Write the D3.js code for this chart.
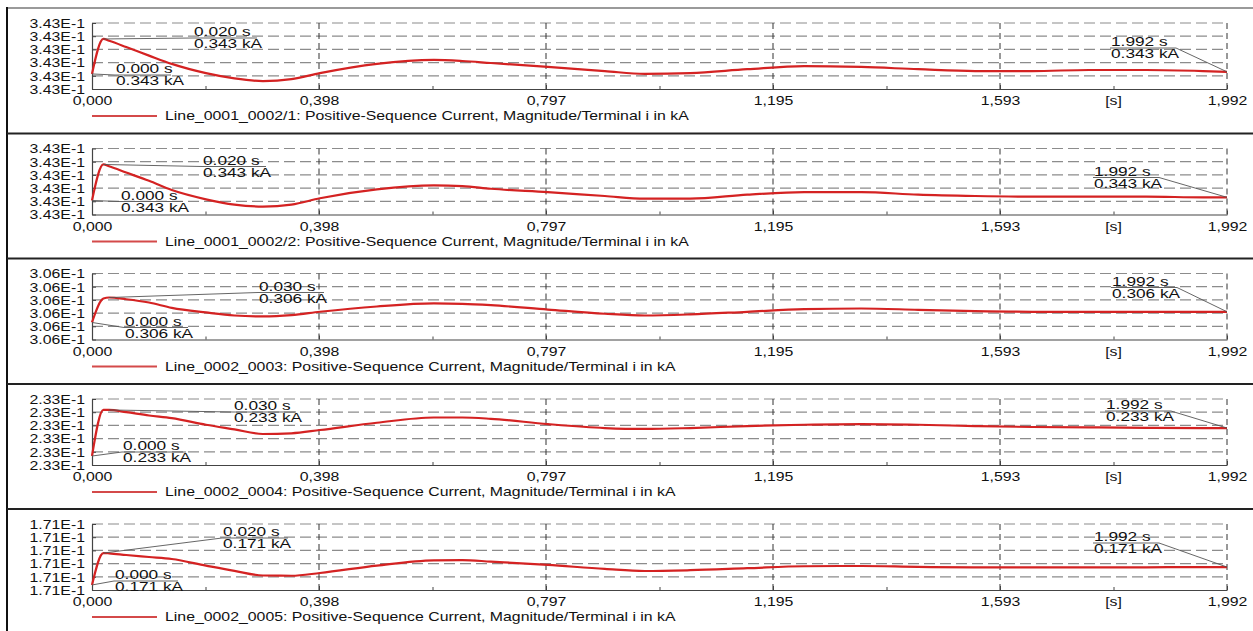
<!DOCTYPE html>
<html><head><meta charset="utf-8">
<script src="https://cdn.jsdelivr.net/npm/d3@7"></script>
<style>
body{margin:0;background:#fff}
svg{display:block}
text{font-family:"Liberation Sans",Arial,sans-serif;font-size:12px;fill:#111}
</style>
</head><body>
<svg id="c" width="1253" height="631"></svg>
<script>
// ---------------- DATA ----------------
const time = [0, 0.02, 0.03, 0.06, 0.1, 0.14, 0.2, 0.25, 0.3, 0.35, 0.4, 0.5, 0.6, 0.65, 0.7, 0.8, 0.9, 0.97, 1.05, 1.15, 1.25, 1.35, 1.45, 1.55, 1.65, 1.75, 1.85, 1.95, 1.992];

const values1 = [0.3430114, 0.3430379, 0.3430365, 0.3430318, 0.3430253, 0.3430190, 0.3430120, 0.3430080, 0.3430060, 0.3430075, 0.3430120, 0.3430190, 0.3430220, 0.3430212, 0.3430197, 0.3430167, 0.3430136, 0.3430114, 0.3430120, 0.3430150, 0.3430174, 0.3430167, 0.3430150, 0.3430136, 0.3430136, 0.3430144, 0.3430144, 0.3430136, 0.3430130];
const values2 = [0.3430106, 0.3430379, 0.3430365, 0.3430318, 0.3430255, 0.3430185, 0.3430115, 0.3430075, 0.3430060, 0.3430075, 0.3430123, 0.3430190, 0.3430220, 0.3430215, 0.3430195, 0.3430170, 0.3430140, 0.3430120, 0.3430120, 0.3430150, 0.3430170, 0.3430170, 0.3430150, 0.3430140, 0.3430135, 0.3430135, 0.3430135, 0.3430130, 0.3430130];
const values3 = [0.3060129, 0.3060310, 0.3060318, 0.3060305, 0.3060280, 0.3060240, 0.3060205, 0.3060182, 0.3060175, 0.3060185, 0.3060210, 0.3060250, 0.3060273, 0.3060270, 0.3060260, 0.3060227, 0.3060195, 0.3060182, 0.3060190, 0.3060210, 0.3060230, 0.3060235, 0.3060225, 0.3060215, 0.3060210, 0.3060210, 0.3060210, 0.3060210, 0.3060210];
const values4 = [0.2330068, 0.2330417, 0.2330417, 0.2330400, 0.2330375, 0.2330355, 0.2330305, 0.2330270, 0.2330235, 0.2330240, 0.2330265, 0.2330320, 0.2330360, 0.2330360, 0.2330350, 0.2330310, 0.2330280, 0.2330273, 0.2330280, 0.2330295, 0.2330305, 0.2330310, 0.2330305, 0.2330295, 0.2330288, 0.2330285, 0.2330282, 0.2330280, 0.2330280];
const values5 = [0.1710038, 0.1710280, 0.1710278, 0.1710265, 0.1710250, 0.1710235, 0.1710185, 0.1710145, 0.1710110, 0.1710108, 0.1710129, 0.1710185, 0.1710225, 0.1710227, 0.1710215, 0.1710190, 0.1710160, 0.1710144, 0.1710150, 0.1710165, 0.1710180, 0.1710182, 0.1710175, 0.1710172, 0.1710172, 0.1710172, 0.1710172, 0.1710174, 0.1710174];

const seriesNames = [
  "Line_0001_0002/1: Positive-Sequence Current, Magnitude/Terminal i in kA",
  "Line_0001_0002/2: Positive-Sequence Current, Magnitude/Terminal i in kA",
  "Line_0002_0003: Positive-Sequence Current, Magnitude/Terminal i in kA",
  "Line_0002_0004: Positive-Sequence Current, Magnitude/Terminal i in kA",
  "Line_0002_0005: Positive-Sequence Current, Magnitude/Terminal i in kA"
];

const yTicks1 = [0.34300, 0.34301, 0.34302, 0.34303, 0.34304, 0.34305];
const yTicks2 = [0.34300, 0.34301, 0.34302, 0.34303, 0.34304, 0.34305];
const yTicks3 = [0.30600, 0.30601, 0.30602, 0.30603, 0.30604, 0.30605];
const yTicks4 = [0.23300, 0.23301, 0.23302, 0.23303, 0.23304, 0.23305];
const yTicks5 = [0.17100, 0.17101, 0.17102, 0.17103, 0.17104, 0.17105];
const yTickLabels1 = ["3.43E-1","3.43E-1","3.43E-1","3.43E-1","3.43E-1","3.43E-1"];
const yTickLabels2 = ["3.43E-1","3.43E-1","3.43E-1","3.43E-1","3.43E-1","3.43E-1"];
const yTickLabels3 = ["3.06E-1","3.06E-1","3.06E-1","3.06E-1","3.06E-1","3.06E-1"];
const yTickLabels4 = ["2.33E-1","2.33E-1","2.33E-1","2.33E-1","2.33E-1","2.33E-1"];
const yTickLabels5 = ["1.71E-1","1.71E-1","1.71E-1","1.71E-1","1.71E-1","1.71E-1"];

const xDomain = [0, 1.992];
const xTicks = [0, 0.3984, 0.7968, 1.1952, 1.5936, 1.992];
const xTickLabels = ["0,000","0,398","0,797","1,195","1,593","1,992"];
const xUnitLabel = "[s]";

// annotation points: [time, time label, value label]
const annot1 = [[0.02, "0.020 s", "0.343 kA"], [0, "0.000 s", "0.343 kA"], [1.992, "1.992 s", "0.343 kA"]];
const annot2 = [[0.02, "0.020 s", "0.343 kA"], [0, "0.000 s", "0.343 kA"], [1.992, "1.992 s", "0.343 kA"]];
const annot3 = [[0.03, "0.030 s", "0.306 kA"], [0, "0.000 s", "0.306 kA"], [1.992, "1.992 s", "0.306 kA"]];
const annot4 = [[0.03, "0.030 s", "0.233 kA"], [0, "0.000 s", "0.233 kA"], [1.992, "1.992 s", "0.233 kA"]];
const annot5 = [[0.02, "0.020 s", "0.171 kA"], [0, "0.000 s", "0.171 kA"], [1.992, "1.992 s", "0.171 kA"]];

// ---------------- LAYOUT ----------------
const SX = 1.32;           // horizontal text stretch of the original screenshot
const SXA = 1.44;          // same stretch for the 11px annotation text
const plotLeft = 92, plotRight = 1227, plotH = 66;
const panelTops = [8, 133.5, 258.5, 384, 509];
// label box layout per annotation: [text x, separator y (rel. plot top), separator width, leader attaches 'l' or 'r']
const annotLayout = [
  [[193, 15, 64, "l"], [115, 52, 56, "l"], [1110, 25, 66, "r"]],
  [[202, 18, 64, "l"], [120, 53, 63, "l"], [1093, 29, 66, "r"]],
  [[258, 19, 66, "l"], [124, 54, 64, "l"], [1111, 14, 66, "r"]],
  [[233, 13, 63, "l"], [122, 53, 64, "l"], [1105, 12, 66, "r"]],
  [[222, 14, 66, "l"], [114, 57, 64, "l"], [1093, 19, 66, "r"]]
];

const panels = [
  {v: values1, yt: yTicks1, yl: yTickLabels1, name: seriesNames[0], an: annot1},
  {v: values2, yt: yTicks2, yl: yTickLabels2, name: seriesNames[1], an: annot2},
  {v: values3, yt: yTicks3, yl: yTickLabels3, name: seriesNames[2], an: annot3},
  {v: values4, yt: yTicks4, yl: yTickLabels4, name: seriesNames[3], an: annot4},
  {v: values5, yt: yTicks5, yl: yTickLabels5, name: seriesNames[4], an: annot5}
];

const svg = d3.select("#c");
const x = d3.scaleLinear().domain(xDomain).range([plotLeft, plotRight]);

function txt(g, px, py, s, anchor, sx, fs) {
  return g.append("text")
    .attr("transform", `translate(${px},${py}) scale(${sx || SX},1)`)
    .attr("text-anchor", anchor || "start")
    .attr("font-size", fs || 12)
    .text(s);
}

// frame lines
svg.append("line").attr("x1", 7).attr("x2", 1253).attr("y1", 8).attr("y2", 8)
  .attr("stroke", "#9a9a9a").attr("stroke-width", 2);
svg.append("line").attr("x1", 7).attr("x2", 7).attr("y1", 7).attr("y2", 631)
  .attr("stroke", "#111").attr("stroke-width", 2);
panelTops.slice(1).forEach(pt => {
  svg.append("line").attr("x1", 7).attr("x2", 1253).attr("y1", pt).attr("y2", pt)
    .attr("stroke", "#222").attr("stroke-width", 2);
});

panels.forEach((p, i) => {
  const top = panelTops[i] + 15;
  const bottom = top + plotH;
  const g = svg.append("g");
  const y = d3.scaleLinear().domain([p.yt[0], p.yt[p.yt.length - 1]]).range([bottom, top]);

  // horizontal grid
  g.selectAll(".hg").data(p.yt.slice(1)).enter().append("line")
    .attr("x1", plotLeft).attr("x2", plotRight)
    .attr("y1", d => y(d)).attr("y2", d => y(d))
    .attr("stroke", "#8c8c8c").attr("stroke-width", 1.2).attr("stroke-dasharray", "11,5");
  // vertical grid
  g.selectAll(".vg").data(xTicks.slice(1)).enter().append("line")
    .attr("x1", d => x(d)).attr("x2", d => x(d))
    .attr("y1", top).attr("y2", bottom)
    .attr("stroke", "#333").attr("stroke-width", 1).attr("stroke-dasharray", "6,4");

  // y axis
  const ya = g.append("g").attr("transform", `translate(${plotLeft},0)`)
    .call(d3.axisLeft(y).tickValues(p.yt).tickSizeInner(-4).tickSizeOuter(0)
      .tickFormat((d, k) => p.yl[k]));
  ya.select(".domain").attr("stroke", "#444").attr("stroke-width", 1.2);
  ya.selectAll(".tick line").attr("stroke", "#444");
  ya.selectAll(".tick text").attr("x", 0).attr("dy", "0.36em")
    .attr("transform", `translate(-7,0) scale(${SX},1)`)
    .attr("font-size", 12).attr("font-family", '"Liberation Sans",Arial,sans-serif').attr("fill", "#111");

  // x axis
  const xa = g.append("g").attr("transform", `translate(0,${bottom})`)
    .call(d3.axisBottom(x).tickValues(xTicks).tickSizeInner(-4).tickSizeOuter(0)
      .tickFormat((d, k) => xTickLabels[k]));
  xa.select(".domain").attr("stroke", "#444").attr("stroke-width", 1.2);
  xa.selectAll(".tick line").attr("stroke", "#444");
  xa.selectAll(".tick text").attr("y", 0).attr("dy", 0)
    .attr("transform", `translate(0,16) scale(${SX},1)`)
    .attr("font-size", 12).attr("font-family", '"Liberation Sans",Arial,sans-serif').attr("fill", "#111");
  // minor ticks
  const mids = d3.pairs(xTicks).map(a => (a[0] + a[1]) / 2);
  const ma = g.append("g").attr("transform", `translate(0,${bottom})`)
    .call(d3.axisBottom(x).tickValues(mids).tickSizeInner(-3).tickSizeOuter(0).tickFormat(""));
  ma.select(".domain").remove();
  ma.selectAll(".tick line").attr("stroke", "#444");
  txt(g, x(mids[mids.length - 1]), bottom + 16, xUnitLabel, "middle");

  // series line
  const line = d3.line().x((d, k) => x(time[k])).y(d => y(d)).curve(d3.curveMonotoneX);
  g.append("path").datum(p.v).attr("d", line)
    .attr("fill", "none").attr("stroke", "#d42222").attr("stroke-width", 2.2);

  // annotations
  p.an.forEach((a, k) => {
    const [t, s1, s2] = a;
    const [tx, sy, sw, side] = annotLayout[i][k];
    const idx = time.indexOf(t);
    const px = x(t), py = y(p.v[idx]);
    const ly = top + sy;
    const ax = side === "l" ? tx : tx + sw;
    g.append("line").attr("x1", px).attr("y1", py).attr("x2", ax).attr("y2", ly)
      .attr("stroke", "#555").attr("stroke-width", 0.9);
    g.append("line").attr("x1", tx).attr("x2", tx + sw).attr("y1", ly).attr("y2", ly)
      .attr("stroke", "#666").attr("stroke-width", 1);
    txt(g, tx + 1, ly - 2, s1, "start", SXA, 11).attr("fill", "#222");
    txt(g, tx + 1, ly + 10, s2, "start", SXA, 11).attr("fill", "#222");
  });

  // legend
  const legY = panelTops[i] + 108;
  g.append("line").attr("x1", 92).attr("x2", 157).attr("y1", legY).attr("y2", legY)
    .attr("stroke", "#d44a4a").attr("stroke-width", 2);
  txt(g, 165, legY + 4, p.name, "start");
});
</script>
</body></html>
